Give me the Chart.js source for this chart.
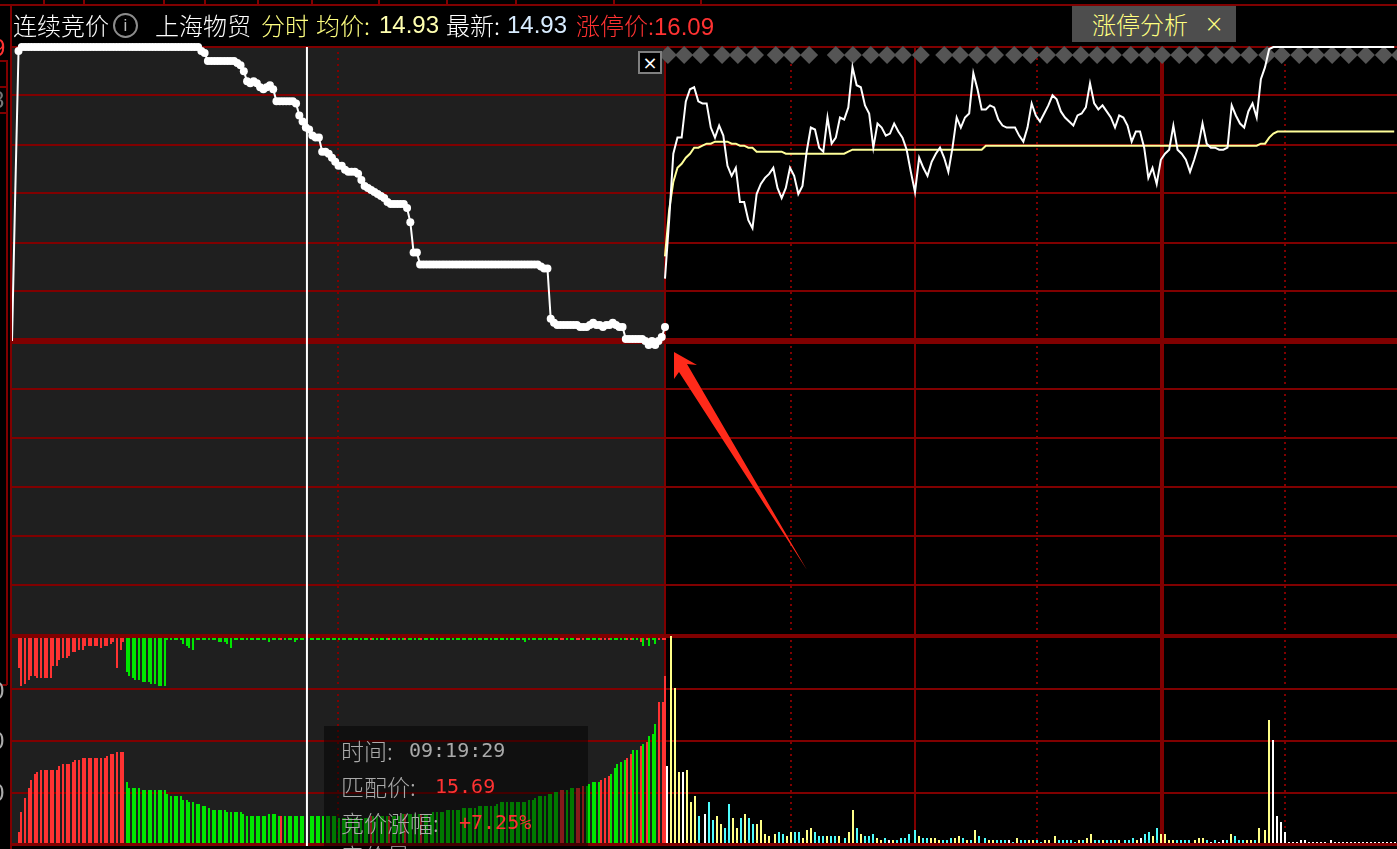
<!DOCTYPE html>
<html lang="zh">
<head>
    <meta charset="UTF-8">
    <title>连续竞价 上海物贸</title>
    <script src="https://cdn.jsdelivr.net/npm/chart.js@4/dist/chart.umd.min.js"></script>
    <style>
        html, body { margin: 0; padding: 0; background: #000; overflow: hidden; }
        #stage { position: relative; width: 1397px; height: 849px; overflow: hidden; background: #000;
                 font-family: "Noto Sans CJK SC", sans-serif; }
        #stage > * { position: absolute; }
        #auctionBg { left: 12px; top: 47px; width: 653px; height: 799px; background: #1f1f1f; }
        #main { left: 0; top: 0; }
        .t { font-size: 24px; line-height: 30px; top: 10px; white-space: nowrap; font-weight: 300; }
        .num { font-family: "Liberation Sans", sans-serif; font-weight: 400; }
        .line { background: #800000; }
        #infoIcon { left: 113px; top: 13px; width: 21px; height: 21px; border: 2px solid #8c8c8c; border-radius: 50%;
                    color: #bbb; font: 17px/21px "Liberation Sans"; text-align: center; }
        #tab { left: 1072px; top: 6px; width: 164px; height: 36px; background: #4d4d4d; color: #ffff80;
               font-size: 24px; line-height: 36px; white-space: nowrap; font-weight: 300; }
        #tab span { position: absolute; top: 0; }
        #closeBox { left: 638px; top: 51px; width: 20px; height: 19px; border: 2px solid #808080; background: #000;
                    color: #fff; font: 18px/19px "DejaVu Sans"; text-align: center; }
        #tipBox { left: 324px; top: 726px; width: 264px; height: 123px; background: rgba(0,0,0,.48); overflow: hidden; }
        #tipBox div { position: absolute; left: 17px; font-size: 23px; line-height: 30px; color: #aaa; white-space: nowrap; font-weight: 300; }
        #tipBox b { position: absolute; top: 0; font: 400 20px/30px "DejaVu Sans Mono", monospace; }
        #tipBox .red { color: #ff3232; }
        .edge { font-size: 24px; line-height: 24px; }
        #arrow { left: 0; top: 0; }
    </style>
</head>
<body>
<div id="stage">
    <div id="auctionBg"></div>
    <canvas id="main" width="1397" height="849"></canvas>

    <div class="line" style="left:0;top:4px;width:1397px;height:2px"></div>
    <div class="line" style="left:10px;top:5px;width:2px;height:844px"></div>
    <div class="line" style="left:6px;top:60px;width:2px;height:625px"></div>
    <div class="line" style="left:0;top:60px;width:7px;height:2px"></div>
    <div class="line" style="left:0;top:86px;width:7px;height:2px"></div>
    <div class="line" style="left:0;top:112px;width:7px;height:2px"></div>
    <div class="line" style="left:0;top:684px;width:7px;height:2px"></div>
    <span class="edge num" style="left:-8px;top:36px;color:#ff3232">9</span>
    <span class="edge num" style="left:-9px;top:88px;color:#777">8</span>
    <span class="edge num" style="left:-9px;top:679px;color:#aaa">0</span>
    <span class="edge num" style="left:-9px;top:729px;color:#aaa">0</span>
    <span class="edge num" style="left:-9px;top:781px;color:#aaa">0</span>

    <span class="t" style="left:13px;color:#fff">连续竞价</span>
    <div id="infoIcon">i</div>
    <span class="t" style="left:155px;color:#fff">上海物贸</span>
    <span class="t" style="left:261px;color:#ffff80">分时</span>
    <span class="t" style="left:316px;color:#ffff80">均价:</span>
    <span class="t num" style="left:379px;color:#ffffb0">14.93</span>
    <span class="t" style="left:446px;color:#fff">最新:</span>
    <span class="t num" style="left:507px;color:#d8ecff">14.93</span>
    <span class="t" style="left:576px;color:#ff3232">涨停价:<span class="num">16.09</span></span>

    <div id="tab"><span style="left:20px">涨停分析</span><span style="left:132px;font-family:'DejaVu Sans'">×</span></div>
    <div id="closeBox">×</div>

    <div id="tipBox">
        <div style="top:9px">时间:<b style="left:68px">09:19:29</b></div>
        <div style="top:45px">匹配价:<b class="red" style="left:94px">15.69</b></div>
        <div style="top:81px">竞价涨幅:<b class="red" style="left:118px">+7.25%</b></div>
        <div style="top:114px">竞价量:</div>
    </div>

    <svg id="arrow" width="1397" height="849">
        <polygon points="674,352 697,365 687,364 807,570 679,372 674,379" fill="#ff2a1a"/>
    </svg>
</div>

<script>
    // top line cell separators
    const headerTicks = [43, 83, 163, 204, 257, 311, 378, 446, 515, 613, 700];

    // 09:15 auction, one sample every 3 seconds
    const auctionStepSec = 3;
    const auctionPrice = [
        14.63, 15.37, 16.07, 16.09, 16.09, 16.09, 16.09, 16.09, 16.09, 16.09,
        16.09, 16.09, 16.09, 16.09, 16.09, 16.09, 16.09, 16.09, 16.09, 16.09,
        16.09, 16.09, 16.09, 16.09, 16.09, 16.09, 16.09, 16.09, 16.09, 16.09,
        16.09, 16.09, 16.09, 16.09, 16.09, 16.09, 16.09, 16.09, 16.09, 16.09,
        16.09, 16.09, 16.09, 16.09, 16.09, 16.09, 16.09, 16.09, 16.09, 16.09,
        16.09, 16.09, 16.09, 16.09, 16.09, 16.09, 16.09, 16.09, 16.07, 16.06,
        16.02, 16.02, 16.02, 16.02, 16.02, 16.02, 16.02, 16.02, 16.02, 16.01,
        16.00, 15.97, 15.92, 15.91, 15.92, 15.91, 15.89, 15.88, 15.89, 15.90,
        15.88, 15.82, 15.82, 15.82, 15.82, 15.82, 15.82, 15.81, 15.75, 15.72,
        15.69, 15.68, 15.65, 15.64, 15.64, 15.57, 15.57, 15.56, 15.54, 15.52,
        15.50, 15.50, 15.48, 15.47, 15.47, 15.47, 15.46, 15.43, 15.40, 15.39,
        15.38, 15.37, 15.36, 15.35, 15.34, 15.32, 15.31, 15.31, 15.31, 15.31,
        15.31, 15.29, 15.22, 15.07, 15.07, 15.01, 15.01, 15.01, 15.01, 15.01,
        15.01, 15.01, 15.01, 15.01, 15.01, 15.01, 15.01, 15.01, 15.01, 15.01,
        15.01, 15.01, 15.01, 15.01, 15.01, 15.01, 15.01, 15.01, 15.01, 15.01,
        15.01, 15.01, 15.01, 15.01, 15.01, 15.01, 15.01, 15.01, 15.01, 15.01,
        15.01, 15.01, 15.00, 14.99, 14.99, 14.74, 14.72, 14.71, 14.71, 14.71,
        14.71, 14.71, 14.71, 14.71, 14.70, 14.70, 14.70, 14.71, 14.72, 14.71,
        14.71, 14.70, 14.71, 14.71, 14.72, 14.71, 14.70, 14.70, 14.64, 14.64,
        14.64, 14.64, 14.64, 14.64, 14.63, 14.61, 14.63, 14.61, 14.63, 14.65,
        14.70
    ];

    // auction volume bars
    const auctionVolume = [
        12, 32, 46, 56, 64, 70, 72, 74, 74, 74, 74, 74, 74, 78, 80, 80, 80, 82, 84, 84,
        86, 86, 86, 86, 86, 86, 86, 86, 88, 90, 90, 92, 92, 92, 62, 56, 56, 56, 56, 54,
        54, 54, 54, 54, 54, 54, 54, 50, 48, 48, 48, 48, 44, 44, 42, 42, 40, 40, 38, 38,
        36, 34, 34, 34, 34, 34, 32, 32, 32, 32, 32, 30, 28, 28, 28, 28, 28, 28, 28, 30,
        30, 30, 28, 28, 28, 28, 28, 28, 28, 28, 28, 28, 28, 28, 28, 28, 28, 28, 28, 28,
        28, 26, 26, 26, 26, 26, 26, 26, 26, 26, 26, 28, 28, 28, 28, 28, 28, 28, 28, 28,
        28, 30, 30, 30, 30, 30, 30, 30, 30, 30, 30, 32, 32, 32, 32, 34, 34, 34, 34, 34,
        36, 36, 36, 36, 36, 38, 38, 38, 38, 38, 38, 40, 42, 42, 42, 42, 42, 42, 42, 42,
        42, 44, 44, 46, 48, 48, 48, 50, 50, 52, 52, 54, 54, 54, 56, 56, 56, 56, 58, 58,
        60, 62, 62, 62, 64, 66, 68, 70, 76, 80, 82, 84, 86, 90, 94, 94, 98, 100, 102, 108,
        110, 120, 142, 142, 168
    ];

    // unmatched quantity, hanging from the top of the lower pane
    const auctionUnmatched = [
        30, 48, 46, 42, 38, 38, 40, 40, 40, 40, 40, 28, 28, 22, 20, 20, 18, 14, 14, 12,
        12, 8, 8, 8, 8, 8, 10, 8, 8, 6, 4, 30, 12, 4, 34, 38, 40, 42, 42, 44,
        44, 44, 46, 46, 48, 48, 48, 2, 2, 2, 2, 2, 6, 8, 10, 12, 2, 2, 2, 2,
        2, 2, 2, 4, 4, 4, 6, 10, 2, 2, 2, 2, 2, 2, 2, 2, 2, 2, 2, 4,
        2, 2, 2, 2, 2, 2, 2, 4, 2, 2, 2, 2, 2, 2, 2, 2, 2, 2, 2, 2,
        2, 2, 2, 2, 2, 2, 2, 2, 2, 2, 2, 2, 2, 2, 2, 2, 2, 2, 2, 2,
        2, 2, 2, 2, 2, 2, 2, 2, 2, 2, 2, 2, 2, 2, 2, 2, 2, 2, 2, 2,
        2, 2, 2, 2, 2, 2, 2, 2, 2, 2, 2, 2, 2, 2, 2, 2, 2, 2, 2, 2,
        4, 2, 2, 2, 2, 2, 2, 2, 2, 2, 2, 2, 2, 2, 2, 2, 2, 2, 2, 2,
        2, 2, 2, 2, 2, 2, 2, 2, 2, 2, 2, 2, 2, 2, 2, 2, 4, 8, 2, 8,
        2, 6, 2, 2, 2
    ];

    // auction bars that are red, the rest are green
    const auctionRedRuns = [[0, 33], [83, 83], [111, 111], [117, 117], [122, 122], [127, 127],
        [171, 172], [176, 178], [184, 186], [192, 193], [196, 196], [198, 198], [202, 204]];

    // time of the crosshair, seconds after 09:15
    const cursorSec = 271;

    // one value per minute after 09:30
    const tradePrice = [
        14.94, 15.23, 15.56, 15.64, 15.64, 15.82, 15.88, 15.89, 15.82, 15.81,
        15.81, 15.69, 15.64, 15.70, 15.65, 15.50, 15.45, 15.49, 15.32, 15.32,
        15.23, 15.19, 15.36, 15.41, 15.44, 15.46, 15.49, 15.39, 15.34, 15.39,
        15.49, 15.45, 15.36, 15.40, 15.57, 15.69, 15.68, 15.59, 15.57, 15.74,
        15.61, 15.64, 15.74, 15.73, 15.79, 15.99, 15.90, 15.89, 15.80, 15.76,
        15.59, 15.71, 15.69, 15.65, 15.66, 15.71, 15.67, 15.64, 15.58, 15.47,
        15.37, 15.54, 15.49, 15.45, 15.52, 15.56, 15.59, 15.54, 15.47, 15.59,
        15.74, 15.69, 15.74, 15.76, 15.96, 15.88, 15.78, 15.78, 15.80, 15.79,
        15.73, 15.70, 15.69, 15.69, 15.69, 15.65, 15.62, 15.69, 15.81, 15.75,
        15.72, 15.76, 15.80, 15.85, 15.83, 15.77, 15.74, 15.72, 15.70, 15.75,
        15.76, 15.79, 15.91, 15.81, 15.78, 15.80, 15.77, 15.74, 15.69, 15.75,
        15.74, 15.70, 15.62, 15.67, 15.67, 15.59, 15.44, 15.49, 15.41, 15.53,
        15.56, 15.58, 15.70, 15.58, 15.56, 15.53, 15.47, 15.53, 15.60, 15.71,
        15.61, 15.59, 15.59, 15.58, 15.58, 15.59, 15.80, 15.75, 15.71, 15.69,
        15.77, 15.81, 15.74, 15.93, 15.99, 16.08, 16.09, 16.09, 16.09, 16.09,
        16.09, 16.09, 16.09, 16.09, 16.09, 16.09, 16.09, 16.09, 16.09, 16.09,
        16.09, 16.09, 16.09, 16.09, 16.09, 16.09, 16.09, 16.09, 16.09, 16.09,
        16.09, 16.09, 16.09, 16.09, 16.09, 16.09
    ];

    const tradeAverage = [
        15.05, 15.28, 15.42, 15.49, 15.51, 15.54, 15.56, 15.59, 15.59, 15.60,
        15.61, 15.61, 15.62, 15.62, 15.62, 15.62, 15.61, 15.61, 15.60, 15.60,
        15.59, 15.59, 15.57, 15.57, 15.57, 15.57, 15.57, 15.57, 15.57, 15.56,
        15.56, 15.56, 15.56, 15.56, 15.56, 15.56, 15.56, 15.56, 15.56, 15.56,
        15.56, 15.56, 15.56, 15.56, 15.57, 15.58, 15.58, 15.58, 15.58, 15.58,
        15.58, 15.58, 15.58, 15.58, 15.58, 15.58, 15.58, 15.58, 15.58, 15.58,
        15.58, 15.58, 15.58, 15.58, 15.58, 15.58, 15.58, 15.58, 15.58, 15.58,
        15.58, 15.58, 15.58, 15.58, 15.58, 15.58, 15.58, 15.60, 15.60, 15.60,
        15.60, 15.60, 15.60, 15.60, 15.60, 15.60, 15.60, 15.60, 15.60, 15.60,
        15.60, 15.60, 15.60, 15.60, 15.60, 15.60, 15.60, 15.60, 15.60, 15.60,
        15.60, 15.60, 15.60, 15.60, 15.60, 15.60, 15.60, 15.60, 15.60, 15.60,
        15.60, 15.60, 15.60, 15.60, 15.60, 15.60, 15.60, 15.60, 15.60, 15.60,
        15.60, 15.60, 15.60, 15.60, 15.60, 15.60, 15.60, 15.60, 15.60, 15.60,
        15.60, 15.60, 15.60, 15.60, 15.60, 15.60, 15.60, 15.60, 15.60, 15.60,
        15.60, 15.60, 15.60, 15.61, 15.61, 15.64, 15.66, 15.67, 15.67, 15.67,
        15.67, 15.67, 15.67, 15.67, 15.67, 15.67, 15.67, 15.67, 15.67, 15.67,
        15.67, 15.67, 15.67, 15.67, 15.67, 15.67, 15.67, 15.67, 15.67, 15.67,
        15.67, 15.67, 15.67, 15.67, 15.67, 15.67
    ];

    const tradeVolume = [
        78, 208, 156, 72, 72, 74, 42, 48, 28, 30,
        42, 24, 28, 20, 16, 40, 26, 16, 26, 30,
        26, 20, 20, 24, 10, 8, 10, 12, 10, 8,
        12, 12, 12, 6, 14, 16, 12, 8, 8, 8,
        8, 8, 8, 6, 12, 34, 16, 10, 8, 8,
        10, 6, 4, 6, 4, 4, 4, 6, 6, 10,
        14, 8, 6, 6, 6, 6, 4, 4, 4, 6,
        6, 8, 6, 4, 4, 14, 8, 6, 4, 4,
        4, 4, 4, 4, 2, 6, 4, 4, 4,
        4, 4, 2, 4, 4, 8, 4, 4, 4, 4,
        2, 4, 4, 6, 10, 4, 4, 4, 4, 4,
        4, 4, 4, 4, 6, 4, 6, 10, 12, 8,
        16, 10, 10, 4, 4, 4, 4, 4, 4, 4,
        6, 6, 4, 2, 4, 2, 4, 4, 10, 8,
        4, 4, 4, 4, 4, 16, 14, 124, 104, 28,
        22, 12, 2, 2, 2, 4, 4, 2, 2, 2, 2, 2, 4,
        2, 2, 2, 2, 2, 2, 2, 2, 2, 2, 2, 2, 2, 2, 2, 2
    ];

    // Y up-tick, C down-tick, W neutral
    const tradeTint = 'WYYYWYYYCW' + 'CCYYCCYYCY' + 'CCYYYYYCCY' + 'YCCYYYCCCY' + 'CCYCYYCYCC' +
        'CYYCWYCCCC' + 'CYCCYYYCCC' + 'YYCYCYCCYY' + 'CCCWCYCCY' + 'YCCYYYCCCC' + 'CYCYYCCYCC' +
        'CYCCCYWCCY' + 'CYYYYCCCCY' + 'YYCWCWWCYC' + 'CCYYCYYYWW' + 'WWWWWWWWWWWWWWWWWWWWWWWWWWWWW';
    const tintColors = { Y: '#ffff88', C: '#4ffcfc', W: '#ffffff' };

    // grey diamonds along the top of the trading session, minutes after 09:30
    const flagMinutes = [0.7, 4.6, 8.6, 13.7, 17.5, 21.6, 26.6, 30.5, 34.6, 41, 45.1, 49.4, 53.3, 57.1, 61.4,
        67, 70.8, 74.9, 79.2, 83.8, 87.8, 91.7, 95.8, 99.8, 103.7, 107.5, 111.8, 115.7, 119.3, 123.4,
        127.4, 132.2, 136.1, 140.2, 144.5, 148, 152.2, 156.2, 160.1, 164.1, 168.2, 172.5, 176.4];
    const flagPrice = 16.05;

    // axis ticks
    const prevClose = 14.63;
    const priceTicks = [16.09, 15.852, 15.603, 15.365, 15.117, 14.878, prevClose, 14.392, 14.148, 13.905, 13.662, 13.418, 13.165];
    const volumeTicks = [0, 51, 103, 155, -1];
    const tradeGridMinutes = [0, 30.24, 60, 89.3, 119.3, 148.8];
    const tradeDotted = [30.24, 89.3, 148.8];
    const auctionGridSec = [300];

    const GRID = '#800000';

    function isRed(i) {
        return auctionRedRuns.some(function (r) { return i >= r[0] && i <= r[1]; });
    }

    function xAxis(min, max, extra) {
        return Object.assign({
            type: 'linear', axis: 'x', min: min, max: max, offset: false,
            ticks: { display: false },
            grid: { display: false, offset: false, drawTicks: false },
            border: { display: false }
        }, extra);
    }

    function yAxis(min, max, extra) {
        return Object.assign({
            type: 'linear', axis: 'y', position: 'left', min: min, max: max,
            ticks: { display: false },
            grid: { display: false, drawTicks: false },
            border: { display: false }
        }, extra);
    }

    // the terminal draws bars on a 2px grid
    const snapBars = {
        id: 'snapBars',
        beforeDatasetsDraw: function (chart) {
            chart.getSortedVisibleDatasetMetas().forEach(function (meta) {
                if (meta.type !== 'bar') return;
                meta.data.forEach(function (el) {
                    el.x = Math.round((el.x - 1) / 2) * 2 + 1;
                    el.y = Math.round(el.y);
                    el.base = Math.round(el.base);
                });
            });
        }
    };

    new Chart(document.getElementById('main'), {
        type: 'bar',
        plugins: [snapBars],
        data: {
            datasets: [
                {
                    type: 'line', label: '最新', xAxisID: 'xTrade', yAxisID: 'yPrice', clip: false,
                    data: tradePrice.map(function (p, m) { return { x: m, y: p }; }),
                    borderColor: '#fff', borderWidth: 2, pointRadius: 0, tension: 0
                },
                {
                    type: 'line', label: '均价', xAxisID: 'xTrade', yAxisID: 'yPrice', clip: false,
                    data: tradeAverage.map(function (p, m) { return { x: m, y: p }; }),
                    borderColor: '#ffff99', borderWidth: 2, pointRadius: 0, tension: 0
                },
                {
                    type: 'line', label: '匹配价', xAxisID: 'xAuction', yAxisID: 'yPrice', clip: false,
                    data: auctionPrice.map(function (p, i) { return { x: i * auctionStepSec, y: p }; }),
                    borderColor: '#fff', borderWidth: 2, tension: 0,
                    backgroundColor: '#fff', pointBorderWidth: 0,
                    pointRadius: function (ctx) { return ctx.dataIndex < 2 ? 0 : 4; }
                },
                {
                    type: 'line', label: 'cursor', xAxisID: 'xAuction', yAxisID: 'yPrice', clip: false,
                    data: [{ x: cursorSec, y: 16.09 }, { x: cursorSec, y: 12.122 }],
                    borderColor: '#fff', borderWidth: 2, pointRadius: 0
                },
                {
                    type: 'line', label: 'flags', xAxisID: 'xTrade', yAxisID: 'yPrice', clip: false, showLine: false,
                    data: flagMinutes.map(function (m) { return { x: m, y: flagPrice }; }),
                    pointStyle: 'rectRot', pointRadius: 9, pointBorderWidth: 0, backgroundColor: '#555'
                },
                {
                    label: '竞价量', xAxisID: 'xAuctionBar', yAxisID: 'yVolume', grouped: false, clip: false,
                    data: auctionVolume.map(function (v, j) { return { x: j, y: v }; }),
                    barThickness: 2, inflateAmount: 0, borderWidth: 0,
                    backgroundColor: function (ctx) { return isRed(ctx.dataIndex) ? '#ff3232' : '#00e600'; }
                },
                {
                    label: '未匹配量', xAxisID: 'xAuctionBar', yAxisID: 'yUnmatched', grouped: false, clip: false,
                    data: auctionUnmatched.map(function (v, j) { return { x: j, y: v }; }),
                    barThickness: 2, inflateAmount: 0, borderWidth: 0,
                    backgroundColor: function (ctx) { return isRed(ctx.dataIndex) ? '#ff3232' : '#00e600'; }
                },
                {
                    label: '成交量', xAxisID: 'xTradeBar', yAxisID: 'yVolume', grouped: false, clip: false,
                    data: tradeVolume.map(function (v, i) { return { x: i, y: v }; }),
                    barThickness: 2, inflateAmount: 0, borderWidth: 0,
                    backgroundColor: function (ctx) { return tintColors[tradeTint[ctx.dataIndex]]; }
                }
            ]
        },
        options: {
            responsive: false,
            animation: false,
            devicePixelRatio: 1,
            layout: { autoPadding: false, padding: { left: 12, top: 46, right: 0, bottom: 3 } },
            plugins: { legend: { display: false }, tooltip: { enabled: false } },
            scales: {
                xAuction: xAxis(0, 1272.6, {
                    afterBuildTicks: function (axis) {
                        axis.ticks = auctionGridSec.map(function (v) { return { value: v }; });
                    },
                    grid: { display: true, offset: false, color: GRID, lineWidth: 2, drawTicks: false },
                    border: { display: false, dash: [2, 4] }
                }),
                xAuctionBar: xAxis(-2.11, 434.8),
                xTrade: xAxis(-156.7, 175.67, {
                    afterBuildTicks: function (axis) {
                        axis.ticks = tradeGridMinutes.map(function (v) { return { value: v }; });
                    },
                    grid: {
                        display: true, offset: false, color: GRID, drawTicks: false,
                        lineWidth: function (ctx) { return ctx.tick && ctx.tick.value === 119.3 ? 4 : 2; }
                    },
                    border: {
                        display: false,
                        dash: function (ctx) { return ctx.tick && tradeDotted.indexOf(ctx.tick.value) >= 0 ? [2, 4] : []; }
                    }
                }),
                xTradeBar: xAxis(-159.06, 177.27),
                yPrice: yAxis(12.122, 16.095, {
                    afterBuildTicks: function (axis) {
                        axis.ticks = priceTicks.map(function (v) { return { value: v }; });
                    },
                    grid: {
                        display: true, color: GRID, drawTicks: false,
                        lineWidth: function (ctx) {
                            if (!ctx.tick) return 2;
                            if (ctx.tick.value === prevClose) return 6;
                            return ctx.tick.value === 13.165 ? 4 : 2;
                        }
                    }
                }),
                yVolume: yAxis(-2, 798, {
                    afterBuildTicks: function (axis) {
                        axis.ticks = volumeTicks.map(function (v) { return { value: v }; });
                    },
                    grid: { display: true, color: GRID, lineWidth: 2, drawTicks: false }
                }),
                yUnmatched: yAxis(-592, 208, { reverse: true })
            }
        }
    });

    headerTicks.forEach(function (x) {
        const tick = document.createElement('div');
        tick.className = 'line';
        tick.style.cssText = 'left:' + x + 'px;top:0;width:2px;height:5px';
        document.getElementById('stage').appendChild(tick);
    });
</script>
</body>
</html>
